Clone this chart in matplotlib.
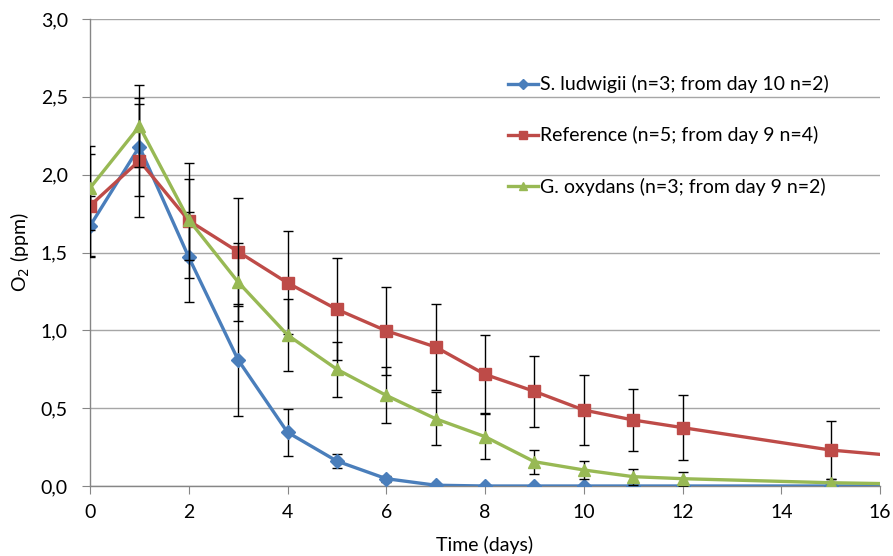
import matplotlib
matplotlib.use("Agg")
import matplotlib.pyplot as plt
from matplotlib.ticker import FuncFormatter, MultipleLocator

plt.rcParams['font.family'] = ['Lato', 'DejaVu Sans']

# --- Data ---
days = [0, 1, 2, 3, 4, 5, 6, 7, 8, 9, 10, 11, 12, 15, 19]

ludwigii = [1.67, 2.18, 1.47, 0.81, 0.345, 0.16, 0.047, 0.005, 0.0, 0.0, 0.0, 0.0, 0.0, 0.0, 0.0]
ludwigii_err = [0.19, 0.315, 0.29, 0.36, 0.15, 0.043, 0.02, 0.005, 0, 0, 0, 0, 0, 0, 0]

reference = [1.80, 2.09, 1.705, 1.505, 1.305, 1.135, 0.997, 0.893, 0.717, 0.608, 0.488, 0.424, 0.375, 0.231, 0.12]
reference_err = [0.33, 0.365, 0.367, 0.348, 0.33, 0.327, 0.283, 0.276, 0.25, 0.23, 0.222, 0.202, 0.208, 0.187, 0]

oxydans = [1.914, 2.311, 1.71, 1.31, 0.97, 0.75, 0.582, 0.432, 0.317, 0.156, 0.103, 0.06, 0.047, 0.021, 0.0]
oxydans_err = [0.27, 0.264, 0.26, 0.25, 0.23, 0.178, 0.18, 0.17, 0.145, 0.077, 0.06, 0.052, 0.045, 0.025, 0]

labels = ["S. ludwigii (n=3; from day 10 n=2)",
          "Reference (n=5; from day 9 n=4)",
          "G. oxydans (n=3; from day 9 n=2)"]

# --- Plot ---
fig = plt.figure(figsize=(8.93, 5.56), dpi=100)
ax = fig.add_axes([90 / 893, 1 - 486 / 556, 790 / 893, 467 / 556])

series = [
    (ludwigii, ludwigii_err, "#4A7EBB", "D", 7.5),
    (reference, reference_err, "#BE4B48", "s", 8.5),
    (oxydans, oxydans_err, "#98B954", "^", 9),
]

for i, (vals, err, color, marker, ms) in enumerate(series):
    ax.errorbar(days, vals, yerr=err, fmt='none', ecolor='black', elinewidth=1.0,
                capsize=3.5, capthick=1.0, zorder=2 + i * 2)
    ax.plot(days, vals, color=color, lw=2.4, marker=marker, markersize=ms,
            markeredgecolor=color, label=labels[i], zorder=3 + i * 2)

ax.set_xlim(0, 16)
ax.set_ylim(0, 3.0)
ax.xaxis.set_major_locator(MultipleLocator(2))
ax.yaxis.set_major_locator(MultipleLocator(0.5))
ax.yaxis.set_major_formatter(FuncFormatter(lambda v, p: f"{v:.1f}".replace(".", ",")))

ax.grid(axis='y', color='#A6A6A6', lw=1.0)
ax.set_axisbelow(True)
for s in ['top', 'right']:
    ax.spines[s].set_visible(False)
for s in ['left', 'bottom']:
    ax.spines[s].set_color('#868686')
    ax.spines[s].set_linewidth(1.0)
ax.tick_params(axis='both', direction='out', length=6, color='#868686', labelsize=14)
ax.tick_params(axis='x', pad=7)
ax.tick_params(axis='y', pad=10)

ax.set_xlabel("Time (days)", fontsize=14, labelpad=11)
ax.set_ylabel("O$_2$ (ppm)", fontsize=14, labelpad=6)

leg = ax.legend(loc='upper left', bbox_to_anchor=(0.507, 0.917), frameon=False,
                fontsize=14, handlelength=1.55, handletextpad=0.1,
                labelspacing=1.7, markerscale=0.7)

fig.savefig("out.png", dpi=100)
